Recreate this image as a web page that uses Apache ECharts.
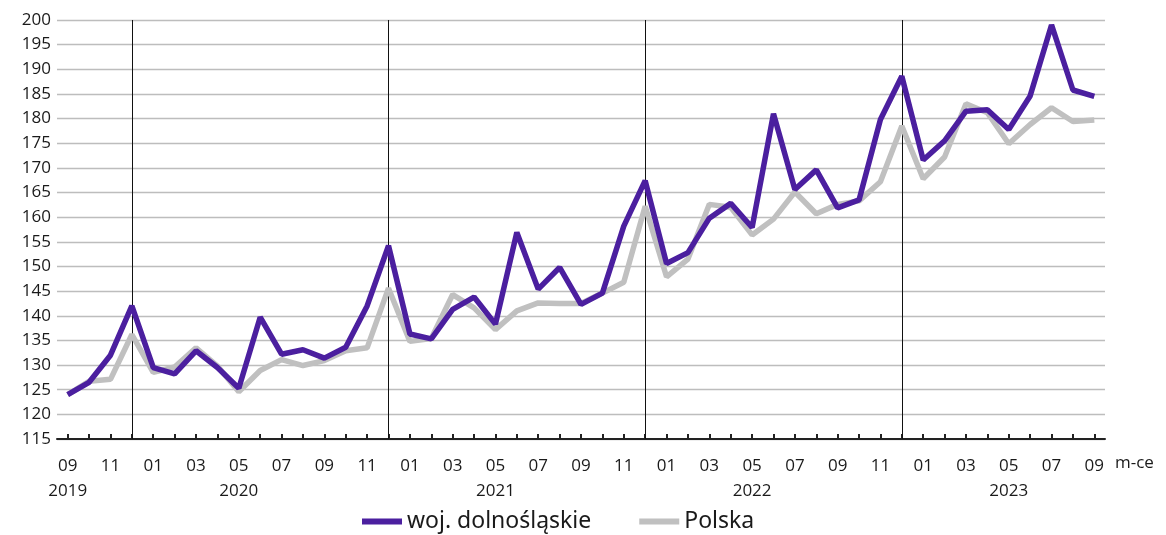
<!DOCTYPE html>
<html>
<head>
<meta charset="utf-8">
<script src="https://cdn.jsdelivr.net/npm/echarts@6/dist/echarts.min.js"></script>
<style>html,body{margin:0;padding:0;background:#fff}#c{width:1166px;height:535px}</style>
</head>
<body>
<div id="c"></div>
<script>
var months = ['2019-09','2019-10','2019-11','2019-12',
 '2020-01','2020-02','2020-03','2020-04','2020-05','2020-06','2020-07','2020-08','2020-09','2020-10','2020-11','2020-12',
 '2021-01','2021-02','2021-03','2021-04','2021-05','2021-06','2021-07','2021-08','2021-09','2021-10','2021-11','2021-12',
 '2022-01','2022-02','2022-03','2022-04','2022-05','2022-06','2022-07','2022-08','2022-09','2022-10','2022-11','2022-12',
 '2023-01','2023-02','2023-03','2023-04','2023-05','2023-06','2023-07','2023-08','2023-09'];
var dolnoslaskie = [124,126.5,132,142,
 129.5,128.2,132.9,129.5,125.3,139.7,132.2,133.1,131.4,133.6,142,154.2,
 136.3,135.3,141.3,143.8,138.3,156.9,145.4,149.8,142.3,144.6,158.2,167.4,
 150.6,152.8,159.8,162.8,157.9,181,165.6,169.6,161.9,163.5,179.8,188.6,
 171.6,175.5,181.5,181.8,177.8,184.6,199,185.8,184.5];
var polska = [124,126.7,127.1,136.2,
 128.5,129.6,133.5,129.8,124.6,128.9,131.1,129.9,130.9,132.9,133.5,145.6,
 134.8,135.4,144.3,141.6,137.2,141,142.6,142.5,142.5,144.6,146.8,162.2,
 147.9,151.5,162.6,162,156.4,159.6,165.1,160.7,162.6,163.3,167.2,178.5,
 167.8,172.2,183,181.2,174.9,178.8,182.2,179.4,179.7];
var yearMarks = ['2019-12','2020-12','2021-12','2022-12'];
var seriesNames = ['woj. dolnośląskie','Polska'];
var yTicks = {min:115, max:200, interval:5};
var axisName = 'm-ce';

var AXFONT = "'Open Sans','Noto Sans',sans-serif";
var LGFONT = "'Noto Sans','Open Sans',sans-serif";
var chart = echarts.init(document.getElementById('c'), null, {renderer:'canvas'});
chart.setOption({
  animation:false,
  textStyle:{fontFamily:AXFONT},
  grid:{left:57, right:61, top:20, bottom:96},
  legend:{
    data:seriesNames, bottom:-3, left:357, itemWidth:40, itemHeight:6, itemGap:48,
    icon:'rect',
    textStyle:{fontFamily:LGFONT, fontSize:23, color:'#1a1a1a'}
  },
  xAxis:{
    type:'category', data:months, boundaryGap:true,
    name:axisName, nameLocation:'end', nameGap:10,
    nameTextStyle:{fontFamily:AXFONT, fontSize:17, color:'#1a1a1a', verticalAlign:'top', align:'left', padding:[16,0,0,0]},
    axisLine:{lineStyle:{color:'#222', width:2}},
    axisTick:{show:true, alignWithLabel:true, inside:true, length:5, interval:0, lineStyle:{color:'#222', width:2}},
    axisLabel:{
      interval:1, margin:15, fontFamily:AXFONT, fontSize:17, color:'#1a1a1a', lineHeight:25,
      formatter:function(v, i){
        var p = v.split('-');
        if (i === 0 || p[1] === '05') return p[1] + '\n' + p[0];
        return p[1];
      }
    },
    splitLine:{show:false}
  },
  yAxis:{
    type:'value', min:yTicks.min, max:yTicks.max, interval:yTicks.interval,
    axisLine:{show:false}, axisTick:{show:false},
    axisLabel:{fontFamily:AXFONT, fontSize:17, color:'#1a1a1a', margin:6},
    splitLine:{lineStyle:{color:'#bdbdbd', width:1.3}}
  },
  series:[
    {
      name:seriesNames[1], type:'line', data:polska, symbol:'none', z:2,
      lineStyle:{color:'#c0c0c0', width:5.5}, itemStyle:{color:'#c0c0c0'}
    },
    {
      name:seriesNames[0], type:'line', data:dolnoslaskie, symbol:'none', z:3,
      lineStyle:{color:'#4b1f9f', width:5.5}, itemStyle:{color:'#4b1f9f'},
      markLine:{
        silent:true, symbol:'none', label:{show:false}, z:1,
        lineStyle:{color:'#111', width:1, type:'solid'},
        data:yearMarks.map(function(m){return {xAxis:m};})
      }
    }
  ]
});
</script>
</body>
</html>
